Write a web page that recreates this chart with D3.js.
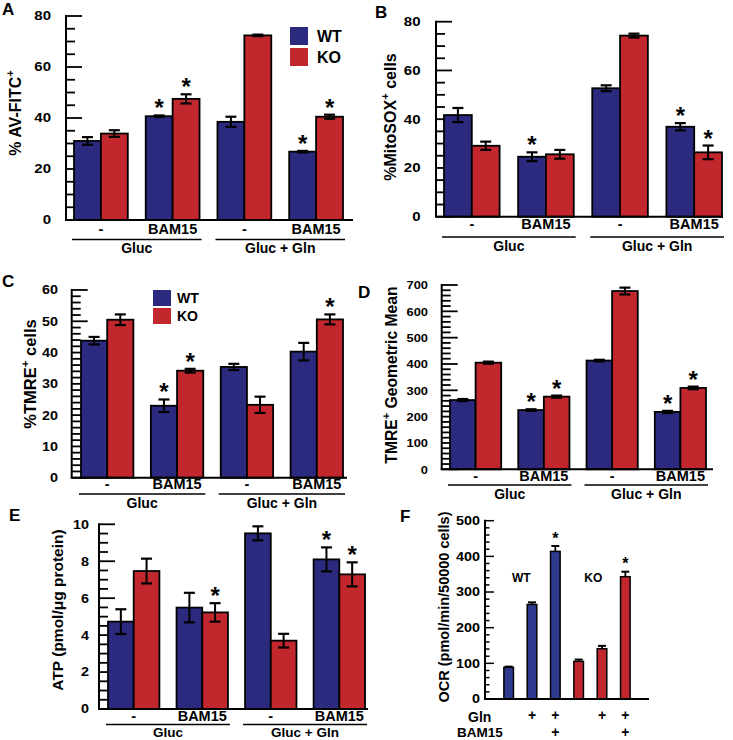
<!DOCTYPE html>
<html><head><meta charset="utf-8">
<script src="https://cdn.jsdelivr.net/npm/d3@7"></script>
<style>
body{margin:0;background:#fff}
svg{display:block}
text{font-family:"Liberation Sans",Arial,Helvetica,sans-serif;font-weight:bold;fill:#000}
</style>
</head><body>
<svg id="chart" width="733" height="740"></svg>
<script>
// ---------------- data ----------------
const treatments = ["-", "BAM15", "-", "BAM15"];
const media = ["Gluc", "Gluc + Gln"];
const genotypes = ["WT", "KO"];

// A: % AV-FITC+
const avWT = [31.0, 40.7, 38.5, 26.8];
const avWTErr = [1.5, 0.3, 2.0, 0.3];
const avKO = [33.9, 47.5, 72.4, 40.5];
const avKOErr = [1.3, 1.8, 0.3, 0.8];
const avWTSig = [false, true, false, true];
const avKOSig = [false, true, false, true];

// B: % MitoSOX+ cells
const msWT = [41.7, 24.6, 52.7, 36.9];
const msWTErr = [2.9, 1.8, 1.2, 1.5];
const msKO = [29.1, 25.6, 74.3, 26.4];
const msKOErr = [1.7, 1.8, 0.8, 2.8];
const msWTSig = [false, true, false, true];
const msKOSig = [false, false, false, true];

// C: % TMRE+ cells
const tpWT = [43.8, 23.0, 35.4, 40.3];
const tpWTErr = [1.2, 2.0, 1.0, 2.8];
const tpKO = [50.5, 34.2, 23.3, 50.6];
const tpKOErr = [1.7, 0.6, 2.6, 1.6];
const tpWTSig = [false, true, false, false];
const tpKOSig = [false, true, false, true];

// D: TMRE+ geometric mean
const gmWT = [263, 225, 413, 218];
const gmWTErr = [4, 3, 3, 4];
const gmKO = [405, 276, 677, 309];
const gmKOErr = [4, 4, 13, 5];
const gmWTSig = [false, true, false, true];
const gmKOSig = [false, true, false, true];

// E: ATP
const atpWT = [4.73, 5.49, 9.51, 8.10];
const atpWTErr = [0.67, 0.80, 0.38, 0.65];
const atpKO = [7.47, 5.23, 3.70, 7.29];
const atpKOErr = [0.67, 0.50, 0.37, 0.65];
const atpWTSig = [false, false, false, true];
const atpKOSig = [false, true, false, true];

// F: OCR
const ocrGenotype = ["WT", "WT", "WT", "KO", "KO", "KO"];
const ocrGln = ["", "+", "+", "", "+", "+"];
const ocrBAM15 = ["", "", "+", "", "", "+"];
const ocrValues = [88.8, 265, 414, 105.6, 141, 343];
const ocrErr = [2, 6, 15, 5, 8, 14];
const ocrSig = [false, false, true, false, false, true];

// ---------------- drawing ----------------
const svg = d3.select("#chart");
const COLORS = {WT: "#2b2a7e", KO: "#c1272d"};

function stext(g, x, y, str, size, anchor, sx) {
  return g.append("text")
    .attr("transform", `translate(${x},${y}) scale(${sx || 1},1)`)
    .attr("text-anchor", anchor || "start")
    .style("font-size", size + "px")
    .text(str);
}

function ylabel(g, x, y, parts, size) {
  const t = g.append("text")
    .attr("transform", `translate(${x},${y}) rotate(-90)`)
    .attr("text-anchor", "middle")
    .style("font-size", size + "px");
  let shifted = false;
  parts.forEach(p => {
    const ts = t.append("tspan").text(p.t);
    if (p.sup) {
      ts.attr("dy", -size * 0.45).style("font-size", (size * 0.7) + "px");
      shifted = true;
    } else if (shifted) {
      ts.attr("dy", size * 0.45);
      shifted = false;
    }
  });
}

function isMult(v, step) {
  const r = v / step;
  return Math.abs(r - Math.round(r)) < 1e-6;
}

function groupedPanel(cfg) {
  const g = svg.append("g");
  const y = d3.scaleLinear().domain([0, cfg.max]).range([cfg.y0, cfg.y1]);
  const x = d3.scaleBand().domain(d3.range(treatments.length)).range([cfg.barL, cfg.barR]).paddingInner(0.25);
  const xs = d3.scaleBand().domain(genotypes).range([0, x.bandwidth()]);

  // ticks (inside, under bars)
  const ticks = d3.range(0, cfg.max + cfg.minor / 2, cfg.minor);
  g.selectAll("line.tick").data(ticks).join("line")
    .attr("x1", cfg.ax).attr("x2", d => cfg.ax + (isMult(d, cfg.major) ? 16 : 9))
    .attr("y1", d => y(d)).attr("y2", d => y(d))
    .attr("stroke", "#000").attr("stroke-width", 1.8);
  ticks.filter(d => isMult(d, cfg.major)).forEach(d => {
    stext(g, cfg.ax - cfg.tickGap, y(d) + 4.4, d3.format("~g")(d), cfg.tickSize, "end", cfg.tickSx);
  });

  // bars
  const rows = [];
  treatments.forEach((t, i) => {
    rows.push({i, k: "WT", v: cfg.wt[i], e: cfg.wtErr[i], s: cfg.wtSig[i]});
    rows.push({i, k: "KO", v: cfg.ko[i], e: cfg.koErr[i], s: cfg.koSig[i]});
  });
  const bw = xs.bandwidth();
  g.selectAll("rect.bar").data(rows).join("rect")
    .attr("x", d => x(d.i) + xs(d.k)).attr("y", d => y(d.v))
    .attr("width", bw).attr("height", d => y(0) - y(d.v))
    .attr("fill", d => COLORS[d.k]).attr("stroke", "#000").attr("stroke-width", 1.8);

  // error bars
  rows.forEach(d => {
    const cx = x(d.i) + xs(d.k) + bw / 2;
    const cap = 11;
    g.append("line").attr("x1", cx).attr("x2", cx).attr("y1", y(d.v - d.e)).attr("y2", y(d.v + d.e))
      .attr("stroke", "#000").attr("stroke-width", 2);
    [d.v - d.e, d.v + d.e].forEach(vv => {
      g.append("line").attr("x1", cx - cap / 2).attr("x2", cx + cap / 2).attr("y1", y(vv)).attr("y2", y(vv))
        .attr("stroke", "#000").attr("stroke-width", 2.2);
    });
    if (d.s) stext(g, cx, y(d.v + d.e) + 1, "*", 24, "middle");
  });

  // axes
  g.append("line").attr("x1", cfg.ax).attr("x2", cfg.ax).attr("y1", y(cfg.max) - 1).attr("y2", y(0))
    .attr("stroke", "#000").attr("stroke-width", 2);
  g.append("line").attr("x1", cfg.ax - 1).attr("x2", cfg.axEnd).attr("y1", y(0)).attr("y2", y(0))
    .attr("stroke", "#000").attr("stroke-width", 2);

  // category labels
  treatments.forEach((t, i) => {
    stext(g, x(i) + x.bandwidth() / 2, cfg.catY, t, 14.5, "middle");
  });
  // group lines and labels
  media.forEach((m, j) => {
    const x1 = x(2 * j) - 2, x2 = x(2 * j + 1) + x.bandwidth() + 2;
    g.append("line").attr("x1", x1).attr("x2", x2).attr("y1", cfg.lineY).attr("y2", cfg.lineY)
      .attr("stroke", "#000").attr("stroke-width", 1.4);
    stext(g, (x1 + x2) / 2, cfg.lineY + (cfg.grpGap || 13.5), m, cfg.grpSize || 14, "middle");
  });

  ylabel(g, cfg.labX, cfg.labY, cfg.label, cfg.labSize);
  stext(g, cfg.letX, cfg.letY, cfg.letter, 17, "start");

  if (cfg.legend) {
    const L = cfg.legend;
    genotypes.forEach((k, j) => {
      g.append("rect").attr("x", L.x).attr("y", L.y + j * L.dy).attr("width", L.w).attr("height", L.h)
        .attr("fill", COLORS[k]);
      stext(g, L.x + L.w + L.gap, L.y + j * L.dy + L.h - 3, k, L.size, "start");
    });
  }
}

groupedPanel({letter: "A", letX: 2, letY: 15,
  wt: avWT, wtErr: avWTErr, ko: avKO, koErr: avKOErr, wtSig: avWTSig, koSig: avKOSig,
  max: 80, major: 20, minor: 5, ax: 66, axEnd: 353, y0: 220, y1: 16, barL: 74, barR: 343,
  tickGap: 15, tickSize: 12, tickSx: 1.25, catY: 234, lineY: 239.5,
  label: [{t: "% AV-FITC"}, {t: "+", sup: true}], labX: 21, labY: 113, labSize: 16,
  legend: {x: 290, y: 27, w: 18, h: 18, dy: 21, gap: 9, size: 16}});

groupedPanel({letter: "B", letX: 375, letY: 18,
  wt: msWT, wtErr: msWTErr, ko: msKO, koErr: msKOErr, wtSig: msWTSig, koSig: msKOSig,
  max: 80, major: 20, minor: 5, ax: 436, axEnd: 723, y0: 216.7, y1: 21.7, barL: 444, barR: 722,
  tickGap: 15.5, tickSize: 12, tickSx: 1.25, catY: 229, lineY: 237,
  label: [{t: "%MitoSOX"}, {t: "+", sup: true}, {t: " cells"}], labX: 396, labY: 117, labSize: 16});

groupedPanel({letter: "C", letX: 2, letY: 287,
  wt: tpWT, wtErr: tpWTErr, ko: tpKO, koErr: tpKOErr, wtSig: tpWTSig, koSig: tpKOSig,
  max: 60, major: 10, minor: 2, ax: 71.7, axEnd: 347, y0: 477.7, y1: 290, barL: 81, barR: 343,
  tickGap: 13.7, tickSize: 12, tickSx: 1.2, catY: 489, lineY: 494,
  label: [{t: "%TMRE"}, {t: "+", sup: true}, {t: " cells"}], labX: 36, labY: 374, labSize: 16.5,
  legend: {x: 153, y: 290, w: 18, h: 16, dy: 18, gap: 6, size: 14}});

groupedPanel({letter: "D", letX: 358, letY: 298,
  wt: gmWT, wtErr: gmWTErr, ko: gmKO, koErr: gmKOErr, wtSig: gmWTSig, koSig: gmKOSig,
  max: 700, major: 100, minor: 20, ax: 441.7, axEnd: 713, y0: 469.3, y1: 285, barL: 450, barR: 706,
  tickGap: 13.7, tickSize: 11.5, tickSx: 1.12, catY: 481, lineY: 485,
  label: [{t: "TMRE"}, {t: "+", sup: true}, {t: " Geometric Mean"}], labX: 397, labY: 375, labSize: 15.7});

groupedPanel({letter: "E", letX: 9, letY: 521,
  wt: atpWT, wtErr: atpWTErr, ko: atpKO, koErr: atpKOErr, wtSig: atpWTSig, koSig: atpKOSig,
  max: 10, major: 2, minor: 0.5, ax: 99, axEnd: 368, y0: 709, y1: 524.3, barL: 108, barR: 365,
  tickGap: 10, tickSize: 12, tickSx: 1.2, catY: 720.5, lineY: 724.5, grpGap: 12, grpSize: 13.5,
  label: [{t: "ATP (pmol/\u03bcg protein)"}], labX: 63, labY: 610, labSize: 15.5});

// ---------------- panel F ----------------
(function () {
  const g = svg.append("g");
  const ax = 485, axEnd = 649;
  const y = d3.scaleLinear().domain([0, 500]).range([699, 520.7]);
  const x = d3.scaleBand().domain(d3.range(ocrValues.length)).range([497, 637]).paddingInner(0.59).paddingOuter(0.295);
  const bw = x.bandwidth();
  const fcol = {WT: "#2e3a8e", KO: "#c1272d"};

  const ticks = d3.range(0, 510, 20);
  g.selectAll("line.tick").data(ticks).join("line")
    .attr("x1", ax).attr("x2", d => ax + (isMult(d, 100) ? 9 : 4.5))
    .attr("y1", d => y(d)).attr("y2", d => y(d))
    .attr("stroke", "#000").attr("stroke-width", 1.5);
  ticks.filter(d => isMult(d, 100)).forEach(d => stext(g, ax - 5, y(d) + 4.4, String(d), 12, "end", 1.2));

  ocrValues.forEach((v, i) => {
    const x0 = x(i);
    g.append("rect").attr("x", x0).attr("y", y(v)).attr("width", bw).attr("height", y(0) - y(v))
      .attr("fill", fcol[ocrGenotype[i]]).attr("stroke", "#000").attr("stroke-width", 1.5);
    const cx = x0 + bw / 2, top = y(v + ocrErr[i]);
    g.append("line").attr("x1", cx).attr("x2", cx).attr("y1", y(v)).attr("y2", top)
      .attr("stroke", "#000").attr("stroke-width", 1.8);
    g.append("line").attr("x1", cx - 4).attr("x2", cx + 4).attr("y1", top).attr("y2", top)
      .attr("stroke", "#000").attr("stroke-width", 2);
    if (ocrSig[i]) stext(g, cx, top - 2.5, "*", 16, "middle");
    if (ocrGln[i]) stext(g, cx, 720.4, ocrGln[i], 14, "middle");
    if (ocrBAM15[i]) stext(g, cx, 737, ocrBAM15[i], 14, "middle");
  });

  g.append("line").attr("x1", ax).attr("x2", ax).attr("y1", y(500) - 1).attr("y2", y(0))
    .attr("stroke", "#000").attr("stroke-width", 2);
  g.append("line").attr("x1", ax - 1).attr("x2", axEnd).attr("y1", y(0)).attr("y2", y(0))
    .attr("stroke", "#000").attr("stroke-width", 2);

  // genotype labels over each triple
  genotypes.forEach(k => {
    const idx = ocrGenotype.map((d, i) => d === k ? i : -1).filter(i => i >= 0);
    const cx = (x(idx[0]) + x(idx[1]) + bw) / 2;
    stext(g, k === "WT" ? cx + 1 : cx + 3, 582, k, 12, "middle");
  });

  stext(g, 468, 721.5, "Gln", 14, "start");
  stext(g, 457, 737, "BAM15", 13.5, "start");
  ylabel(g, 449, 607, [{t: "OCR (pmol/min/50000 cells)"}], 14.5);
  stext(g, 400, 522, "F", 17, "start");
})();
</script>
</body></html>
